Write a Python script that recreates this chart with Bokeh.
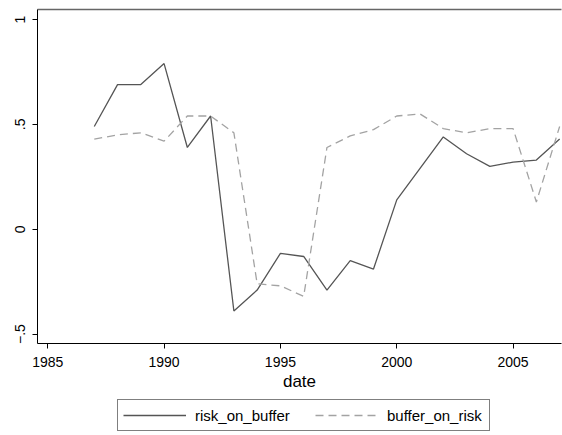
from bokeh.plotting import figure
from bokeh.models import LinearAxis, FixedTicker, Legend, LegendItem, Range1d
from bokeh.layouts import column
from bokeh.embed import file_html
from bokeh.resources import INLINE

years = list(range(1987, 2008))
risk_on_buffer = [0.49, 0.69, 0.69, 0.79, 0.39, 0.54, -0.39, -0.29, -0.115, -0.13,
                  -0.29, -0.15, -0.19, 0.14, 0.29, 0.44, 0.36, 0.30, 0.32, 0.33, 0.43]
buffer_on_risk = [0.43, 0.45, 0.46, 0.42, 0.54, 0.54, 0.46, -0.26, -0.27, -0.32,
                  0.39, 0.445, 0.475, 0.54, 0.55, 0.48, 0.46, 0.48, 0.48, 0.13, 0.49]
x_ticks = [1985, 1990, 1995, 2000, 2005]
y_ticks = [-0.5, 0, 0.5, 1]
y_tick_labels = ["\u2212.5", "0", ".5", "1"]
series_names = ["risk_on_buffer", "buffer_on_risk"]

FONT = "Liberation Sans"
SOLID = dict(line_color="#555555", line_width=1.3)
DASHED = dict(line_color="#a3a3a3", line_width=1.3, line_dash="8 5")

p = figure(width=562, height=395, output_backend="svg", toolbar_location=None,
           x_range=Range1d(1984.56, 2007.08), y_range=Range1d(-0.545, 1.048),
           min_border_left=37, min_border_right=1, min_border_top=9, min_border_bottom=52)
p.outline_line_color = None
p.grid.visible = False
p.background_fill_color = "white"
p.border_fill_color = "white"

p.line(years, risk_on_buffer, **SOLID)
p.line(years, buffer_on_risk, **DASHED)

for ax in (p.xaxis[0], p.yaxis[0]):
    ax.axis_line_color = "black"
    ax.axis_line_width = 1
    ax.major_tick_line_color = "black"
    ax.major_tick_out = 5
    ax.major_tick_in = 0
    ax.minor_tick_line_color = None
    ax.major_label_text_font = FONT
    ax.major_label_text_font_size = "14px"
    ax.major_label_text_color = "black"

p.xaxis.ticker = FixedTicker(ticks=x_ticks)
p.xaxis.major_label_standoff = 8
p.xaxis.axis_label = "date"
p.xaxis.axis_label_text_font = FONT
p.xaxis.axis_label_text_font_size = "17px"
p.xaxis.axis_label_text_font_style = "normal"
p.xaxis.axis_label_text_color = "black"
p.xaxis.axis_label_standoff = 2

p.yaxis.ticker = FixedTicker(ticks=y_ticks)
p.yaxis.major_label_overrides = {t: l for t, l in zip(y_ticks, y_tick_labels)}
p.yaxis.major_label_orientation = "vertical"
p.yaxis.major_label_standoff = 7

top = LinearAxis(ticker=FixedTicker(ticks=[]), axis_line_color="#666666", axis_line_width=1.5,
                 major_tick_line_color=None, minor_tick_line_color=None,
                 major_label_text_font_size="0px")
p.add_layout(top, "above")

# legend strip (its ranges keep the series out of view; only the legend shows)
p2 = figure(width=562, height=40, output_backend="svg", toolbar_location=None,
            x_range=Range1d(0, 1), y_range=Range1d(0, 1), min_border=0)
p2.axis.visible = False
p2.grid.visible = False
p2.outline_line_color = None
p2.background_fill_color = "white"
p2.border_fill_color = "white"
d1 = p2.line(years, risk_on_buffer, **SOLID)
d2 = p2.line(years, buffer_on_risk, **DASHED)

legend = Legend(items=[LegendItem(label=series_names[0], renderers=[d1]),
                       LegendItem(label=series_names[1], renderers=[d2])],
                orientation="horizontal", location=(80, 4),
                label_text_font=FONT, label_text_font_size="15px", label_text_color="black",
                glyph_width=63, glyph_height=20, label_standoff=9, label_width=97,
                spacing=23, padding=5, margin=0,
                border_line_color="black", border_line_width=1,
                background_fill_color="white", background_fill_alpha=1.0)
p2.add_layout(legend, "center")

layout = column(p, p2, spacing=0)
open("out.html", "w").write(file_html(layout, INLINE))
